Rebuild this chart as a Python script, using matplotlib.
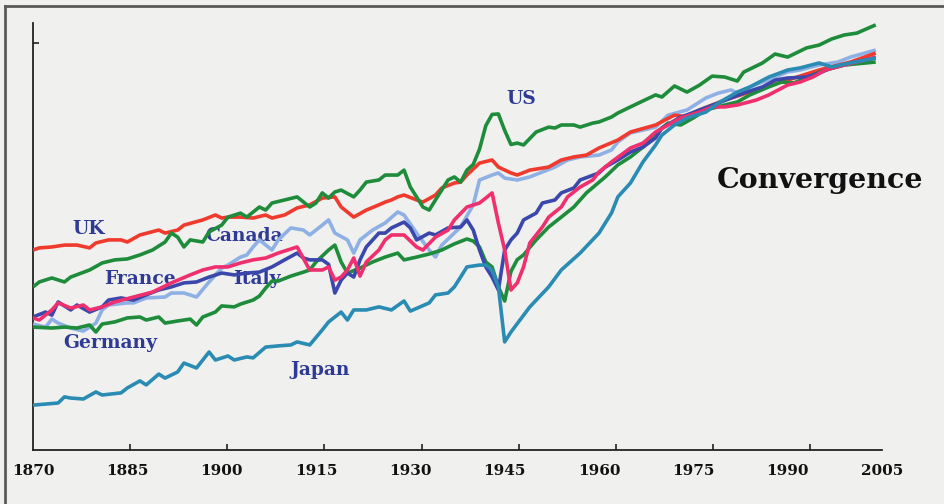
import matplotlib
matplotlib.use('Agg')
import matplotlib.pyplot as plt
from matplotlib.lines import Line2D

# log10 of GDP per capita
us_years = [1870,1871,1873,1875,1876,1879,1881,1883,1885,1887,1889,1891,1892,1893,1894,1895,1897,1898,1900,1901,
            1903,1904,1906,1907,1908,1910,1912,1914,1915,1916,1917,1918,1919,1921,1922,1923,1925,1926,1928,1929,
            1930,1932,1933,1934,1936,1937,1938,1939,1940,1941,1942,1943,1944,1945,1946,1947,1948,1950,1952,1953,
            1954,1956,1957,1959,1960,1962,1963,1965,1969,1970,1972,1974,1976,1978,1980,1982,1983,1986,1988,1990,
            1993,1995,1997,1999,2001,2004]
us_gdp = [3.374,3.395,3.412,3.395,3.416,3.446,3.476,3.489,3.493,3.510,3.531,3.565,3.603,3.586,3.544,3.574,3.565,3.608,3.637,3.671,
          3.688,3.671,3.714,3.701,3.731,3.744,3.757,3.714,3.731,3.774,3.752,3.778,3.786,3.757,3.786,3.820,3.829,3.850,3.850,3.871,
          3.799,3.714,3.701,3.744,3.829,3.842,3.820,3.871,3.895,3.960,4.060,4.108,4.110,4.040,3.980,3.986,3.978,4.033,4.054,4.050,
          4.063,4.063,4.054,4.071,4.076,4.097,4.114,4.140,4.191,4.182,4.229,4.203,4.233,4.271,4.267,4.250,4.288,4.327,4.365,4.352,
          4.391,4.403,4.429,4.446,4.454,4.489]

uk_years = [1870,1871,1873,1875,1877,1879,1880,1882,1884,1885,1887,1890,1891,1893,1894,1897,1899,1900,1901,1903,
            1905,1907,1908,1910,1912,1914,1916,1918,1919,1921,1923,1925,1926,1927,1928,1929,1931,1932,1934,1935,
            1937,1938,1939,1941,1943,1944,1946,1947,1949,1952,1954,1956,1958,1960,1963,1965,1969,1972,1974,1976,
            1980,1985,1990,1995,2000,2004]
uk_gdp = [3.531,3.540,3.544,3.552,3.552,3.540,3.561,3.574,3.574,3.565,3.595,3.616,3.603,3.616,3.637,3.659,3.680,3.667,3.671,3.671,
          3.667,3.680,3.667,3.680,3.710,3.723,3.752,3.757,3.714,3.671,3.701,3.723,3.735,3.744,3.757,3.765,3.744,3.735,3.765,3.795,
          3.816,3.820,3.850,3.901,3.914,3.884,3.859,3.850,3.871,3.884,3.914,3.927,3.935,3.965,3.999,4.033,4.063,4.105,4.097,4.127,
          4.169,4.212,4.254,4.297,4.331,4.369]

ca_years = [1870,1872,1873,1874,1876,1878,1880,1881,1882,1885,1886,1888,1891,1892,1894,1896,1898,1900,1901,1903,
            1904,1905,1906,1908,1909,1911,1913,1914,1916,1917,1918,1920,1921,1922,1924,1926,1928,1929,1931,1933,
            1934,1935,1938,1940,1941,1943,1944,1945,1947,1949,1951,1953,1955,1957,1960,1962,1963,1965,1969,1971,
            1974,1977,1979,1981,1982,1984,1986,1988,1990,1992,1995,1998,2000,2004]
ca_gdp = [3.216,3.203,3.237,3.220,3.199,3.186,3.220,3.276,3.297,3.306,3.306,3.327,3.331,3.348,3.348,3.331,3.395,3.454,3.467,3.501,
          3.510,3.544,3.574,3.531,3.574,3.625,3.616,3.595,3.637,3.659,3.603,3.574,3.518,3.574,3.616,3.646,3.693,3.680,3.603,3.531,
          3.501,3.552,3.629,3.723,3.829,3.850,3.859,3.837,3.829,3.842,3.863,3.884,3.914,3.927,3.935,3.957,3.991,4.029,4.054,4.105,
          4.127,4.178,4.199,4.212,4.199,4.225,4.246,4.267,4.289,4.297,4.318,4.331,4.352,4.382]

fr_years = [1870,1872,1873,1874,1876,1877,1879,1881,1882,1884,1886,1888,1890,1892,1894,1896,1898,1900,1902,1904,
            1906,1908,1910,1912,1913,1914,1916,1917,1918,1919,1920,1921,1922,1923,1925,1926,1927,1929,1930,1931,
            1933,1934,1936,1938,1939,1940,1941,1942,1943,1944,1945,1946,1947,1948,1950,1951,1953,1954,1956,1957,
            1960,1961,1963,1965,1967,1969,1970,1973,1974,1976,1979,1981,1983,1986,1988,1990,1993,1995,1997,2000,
            2004]
fr_gdp = [3.246,3.267,3.254,3.310,3.276,3.297,3.267,3.289,3.318,3.327,3.318,3.340,3.361,3.374,3.391,3.395,3.416,3.433,3.425,3.433,
          3.437,3.459,3.489,3.518,3.497,3.489,3.489,3.470,3.348,3.403,3.433,3.416,3.489,3.544,3.603,3.603,3.625,3.650,3.625,3.574,
          3.603,3.595,3.625,3.629,3.659,3.616,3.531,3.459,3.416,3.361,3.531,3.574,3.603,3.659,3.688,3.731,3.744,3.774,3.795,3.829,
          3.859,3.884,3.914,3.948,3.969,4.008,4.050,4.097,4.106,4.127,4.157,4.178,4.199,4.225,4.254,4.263,4.267,4.284,4.306,4.327,
          4.348]

it_years = [1870,1871,1873,1874,1876,1878,1879,1881,1883,1886,1889,1892,1895,1897,1899,1901,1903,1905,1907,1909,
            1912,1914,1916,1917,1918,1919,1920,1921,1922,1923,1925,1926,1927,1929,1931,1932,1934,1936,1937,1939,
            1941,1942,1943,1944,1945,1946,1947,1948,1949,1951,1952,1954,1955,1957,1959,1960,1962,1965,1967,1969,
            1971,1973,1976,1978,1980,1982,1985,1987,1990,1992,1994,1996,1999,2001,2004]
it_gdp = [3.242,3.233,3.276,3.306,3.284,3.297,3.276,3.289,3.310,3.331,3.352,3.391,3.425,3.446,3.459,3.459,3.476,3.489,3.497,3.518,
          3.544,3.446,3.446,3.459,3.403,3.416,3.446,3.497,3.420,3.480,3.531,3.574,3.595,3.595,3.544,3.531,3.586,3.616,3.659,3.714,
          3.731,3.752,3.774,3.646,3.531,3.361,3.391,3.459,3.561,3.629,3.671,3.714,3.757,3.799,3.829,3.863,3.906,3.965,3.986,4.033,
          4.063,4.093,4.118,4.140,4.140,4.148,4.169,4.191,4.233,4.246,4.267,4.297,4.318,4.331,4.352]

de_years = [1870,1873,1875,1877,1879,1880,1881,1883,1885,1887,1888,1890,1891,1893,1895,1896,1897,1899,1900,1902,
            1903,1905,1906,1907,1908,1909,1911,1913,1914,1915,1917,1918,1919,1920,1922,1924,1926,1928,1929,1931,
            1933,1935,1937,1939,1940,1941,1942,1943,1944,1945,1946,1947,1948,1950,1952,1954,1956,1958,1961,1963,
            1965,1967,1969,1971,1973,1975,1977,1980,1982,1984,1987,1989,1991,1994,1996,1999,2004]
de_gdp = [3.203,3.199,3.203,3.199,3.212,3.182,3.216,3.225,3.242,3.246,3.233,3.246,3.220,3.229,3.237,3.212,3.246,3.267,3.293,3.289,
          3.301,3.318,3.335,3.369,3.399,3.399,3.420,3.437,3.446,3.480,3.531,3.552,3.480,3.433,3.454,3.480,3.501,3.518,3.489,3.501,
          3.514,3.531,3.557,3.578,3.569,3.544,3.480,3.459,3.374,3.314,3.440,3.490,3.510,3.574,3.629,3.671,3.714,3.774,3.842,3.893,
          3.927,3.969,4.029,4.071,4.063,4.093,4.127,4.148,4.161,4.191,4.225,4.246,4.242,4.276,4.297,4.318,4.331]

jp_years = [1870,1874,1875,1876,1878,1880,1881,1884,1885,1887,1888,1890,1891,1893,1894,1896,1898,1899,1901,1902,
            1904,1905,1907,1909,1911,1912,1914,1916,1917,1919,1920,1921,1923,1925,1927,1929,1930,1933,1934,1936,
            1937,1938,1939,1941,1942,1943,1944,1945,1946,1949,1952,1954,1957,1960,1962,1963,1965,1967,1969,1970,
            1972,1974,1977,1979,1982,1984,1987,1990,1992,1995,1997,2000,2004]
jp_gdp = [2.871,2.880,2.906,2.901,2.897,2.927,2.914,2.923,2.944,2.974,2.957,3.003,2.986,3.012,3.050,3.029,3.097,3.063,3.080,3.063,
          3.076,3.072,3.118,3.123,3.127,3.140,3.127,3.191,3.225,3.267,3.233,3.276,3.276,3.289,3.276,3.314,3.271,3.306,3.340,3.348,
          3.374,3.416,3.459,3.467,3.467,3.446,3.374,3.140,3.182,3.289,3.374,3.446,3.518,3.603,3.689,3.757,3.816,3.906,3.978,4.020,
          4.063,4.093,4.118,4.157,4.203,4.225,4.267,4.297,4.306,4.327,4.310,4.327,4.348]

tick_years = [1870, 1885, 1900, 1915, 1930, 1945, 1960, 1975, 1990, 2005]

BG = '#f0f1ef'
LABEL_BLUE = '#2e3a94'
GREEN = '#1f8c3b'

# drawing order: later ones sit on top
series = [
    (ca_years, ca_gdp, '#8eb0e4'),
    (uk_years, uk_gdp, '#ef3a2d'),
    (de_years, de_gdp, GREEN),
    (fr_years, fr_gdp, '#3b47aa'),
    (it_years, it_gdp, '#f02f6e'),
    (us_years, us_gdp, GREEN),
    (jp_years, jp_gdp, '#2a8bb3'),
]

fig = plt.figure(figsize=(9.44, 5.04), dpi=100, facecolor=BG)
ax = fig.add_axes([33/944, 54/504, 849/944, 427/504])
ax.set_facecolor(BG)

for yrs, vals, col in series:
    ax.plot(yrs, vals, color=col, lw=2.6, zorder=3, solid_capstyle='butt')

ax.set_xlim(1870, 2005)
ax.set_ylim(2.68, 4.497)

for s in ['top', 'right']:
    ax.spines[s].set_visible(False)
for s in ['left', 'bottom']:
    ax.spines[s].set_color('#222222')
    ax.spines[s].set_linewidth(1.3)

# labels sit on the years, the little marks do not quite line up with them
ax.set_xticks(tick_years)
ax.set_xticklabels([str(y) for y in tick_years], fontfamily='DejaVu Serif',
                   fontweight='bold', fontsize=11)
ax.tick_params(axis='x', which='major', length=0, pad=10, labelcolor='#111111')
ax.set_xticks([1870 + 15.45 * k for k in range(1, 9)], minor=True)
ax.tick_params(axis='x', which='minor', direction='in', length=4, width=1.2, color='#222222')
ax.set_yticks([4.41])
ax.set_yticklabels([])
ax.tick_params(axis='y', direction='in', length=4, width=1.2, color='#222222')

# series names, drawn under the lines
names = [
    ('UK', 72, 229),
    ('Canada', 205, 236),
    ('France', 104, 279),
    ('Italy', 233, 279),
    ('Germany', 63, 343),
    ('Japan', 290, 370),
    ('US', 506, 99),
]
for txt, px, py in names:
    ax.text(px/944, 1 - py/504, txt, transform=fig.transFigure, ha='left', va='center',
            fontfamily='DejaVu Serif', fontweight='bold', fontsize=13.5,
            color=LABEL_BLUE, zorder=2)

ax.text(717/944, 1 - 180/504, 'Convergence', transform=fig.transFigure, ha='left', va='center',
        fontfamily='DejaVu Serif', fontweight='bold', fontsize=20.5, color='#111111', zorder=2)

# grey frame on the top and left edges of the scan
fig.add_artist(Line2D([5/944, 5/944], [0, 1 - 6/504], transform=fig.transFigure,
                      color='#5a5a5a', lw=2))
fig.add_artist(Line2D([5/944, 1], [1 - 6/504, 1 - 6/504], transform=fig.transFigure,
                      color='#5a5a5a', lw=2))

fig.savefig('out.png', dpi=100, facecolor=BG)
